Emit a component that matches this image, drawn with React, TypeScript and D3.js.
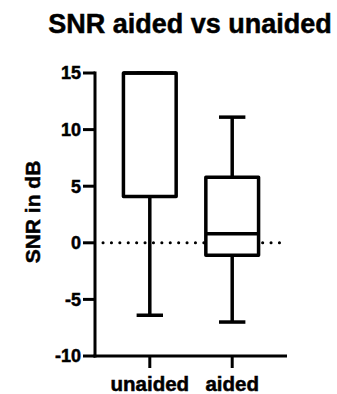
import React from 'react';
import * as d3 from 'd3';

// box plot summary values
const categories = ['unaided', 'aided'];
const whiskerMin = [-6.4, -7.0];
const q1 = [4.1, -1.1];
const median = [15, 0.8];
const q3 = [15, 5.8];
const whiskerMax = [15, 11.1];
const yTicks = [-10, -5, 0, 5, 10, 15];

const W = 337;
const H = 394;
const FONT = '"Liberation Sans", Arial, sans-serif';

export default function App() {
  const margin = { top: 73, right: 50, bottom: 38, left: 95 };

  const y = d3.scaleLinear().domain([-10, 15]).range([H - margin.bottom, margin.top]);
  const x = d3.scalePoint<string>().domain(categories).range([margin.left, W - margin.right]).padding(0.665);

  const boxW = x.step() * 0.64;
  const capW = boxW / 2;
  const x0 = margin.left;
  const x1 = W - margin.right;
  const yBase = y(-10);

  // slight outline so the bold text looks as heavy as the original export
  const heavy = { stroke: '#000', strokeWidth: 0.5 };

  return (
    <svg width={W} height={H} style={{ position: 'absolute', left: 0, top: 0 }} fontFamily={FONT} fontWeight="bold">
      <rect width={W} height={H} fill="#fff" />
      <text x={190} y={33} textAnchor="middle" fontSize={27} {...heavy}>SNR aided vs unaided</text>

      {/* y axis */}
      <line x1={x0} x2={x0} y1={y(15) - 1.5} y2={yBase + 1.5} stroke="#000" strokeWidth={3} />
      {yTicks.map(t => (
        <g key={t}>
          <line x1={x0 - 12} x2={x0} y1={y(t)} y2={y(t)} stroke="#000" strokeWidth={3} />
          <text x={x0 - 14} y={y(t)} dy="0.36em" textAnchor="end" fontSize={18} {...heavy}>{t}</text>
        </g>
      ))}
      <text transform={`translate(40,212) rotate(-90)`} textAnchor="middle" fontSize={21} {...heavy}>SNR in dB</text>

      {/* x axis */}
      <line x1={x0 - 1.5} x2={x1} y1={yBase} y2={yBase} stroke="#000" strokeWidth={3} />
      {categories.map(c => (
        <g key={c}>
          <line x1={x(c)} x2={x(c)} y1={yBase} y2={yBase + 12} stroke="#000" strokeWidth={3} />
          <text x={x(c)} y={391} textAnchor="middle" fontSize={20.5} {...heavy}>{c}</text>
        </g>
      ))}

      {/* zero reference line */}
      <line x1={x0 + 8} x2={x1 - 2} y1={y(0)} y2={y(0)} stroke="#000" strokeWidth={3} strokeLinecap="round" strokeDasharray="0.1 8.3" />

      {/* boxes */}
      {categories.map((c, i) => {
        const cx = x(c) as number;
        return (
          <g key={c} stroke="#000" strokeWidth={3.5} fill="none" strokeLinejoin="round">
            <line x1={cx} x2={cx} y1={y(q3[i])} y2={y(whiskerMax[i])} />
            <line x1={cx} x2={cx} y1={y(q1[i])} y2={y(whiskerMin[i])} />
            <line x1={cx - capW / 2} x2={cx + capW / 2} y1={y(whiskerMax[i])} y2={y(whiskerMax[i])} />
            <line x1={cx - capW / 2} x2={cx + capW / 2} y1={y(whiskerMin[i])} y2={y(whiskerMin[i])} />
            <rect x={cx - boxW / 2} y={y(q3[i])} width={boxW} height={y(q1[i]) - y(q3[i])} fill="#fff" />
            <line x1={cx - boxW / 2} x2={cx + boxW / 2} y1={y(median[i])} y2={y(median[i])} />
          </g>
        );
      })}
    </svg>
  );
}
